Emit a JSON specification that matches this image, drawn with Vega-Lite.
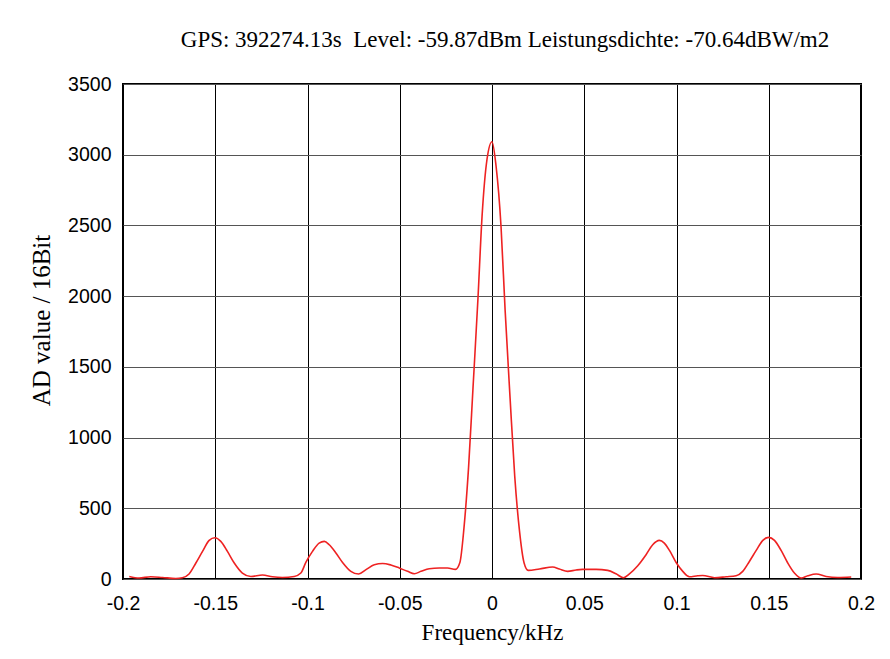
{
  "$schema": "https://vega.github.io/schema/vega-lite/v6.json",
  "autosize": {"type": "none"},
  "width": 738,
  "height": 495,
  "padding": {"left": 123, "top": 84, "right": 29, "bottom": 80},
  "background": "white",
  "title": {
    "text": "GPS: 392274.13s\u00a0 Level: -59.87dBm Leistungsdichte: -70.64dBW/m2",
    "font": "Liberation Serif",
    "fontSize": 23,
    "fontWeight": "normal",
    "color": "black",
    "frame": "group",
    "anchor": "middle",
    "baseline": "alphabetic",
    "offset": 4,
    "dx": 13
  },
  "data": {
    "values": [
      {"f": -0.1966, "v": 18}, {"f": -0.1913, "v": 7}, {"f": -0.185, "v": 16}, {"f": -0.1786, "v": 11},
      {"f": -0.1714, "v": 4}, {"f": -0.1678, "v": 9}, {"f": -0.1642, "v": 35}, {"f": -0.1605, "v": 113},
      {"f": -0.1569, "v": 195}, {"f": -0.1533, "v": 273}, {"f": -0.1502, "v": 292}, {"f": -0.147, "v": 266},
      {"f": -0.1434, "v": 195}, {"f": -0.1397, "v": 113}, {"f": -0.1353, "v": 42}, {"f": -0.1307, "v": 18},
      {"f": -0.1244, "v": 28}, {"f": -0.119, "v": 16}, {"f": -0.1136, "v": 11}, {"f": -0.1072, "v": 18},
      {"f": -0.1036, "v": 42}, {"f": -0.1009, "v": 117}, {"f": -0.0973, "v": 195}, {"f": -0.0937, "v": 254},
      {"f": -0.0909, "v": 266}, {"f": -0.0882, "v": 242}, {"f": -0.0846, "v": 184}, {"f": -0.081, "v": 117},
      {"f": -0.0765, "v": 54}, {"f": -0.0723, "v": 35}, {"f": -0.0683, "v": 66}, {"f": -0.0638, "v": 101},
      {"f": -0.0593, "v": 110}, {"f": -0.0548, "v": 99}, {"f": -0.0503, "v": 78}, {"f": -0.0458, "v": 54},
      {"f": -0.0421, "v": 37}, {"f": -0.0385, "v": 54}, {"f": -0.034, "v": 73}, {"f": -0.0286, "v": 78},
      {"f": -0.0241, "v": 78}, {"f": -0.0198, "v": 68}, {"f": -0.0174, "v": 117}, {"f": -0.0152, "v": 360},
      {"f": -0.0127, "v": 789}, {"f": -0.0103, "v": 1350}, {"f": -0.0076, "v": 1985}, {"f": -0.0054, "v": 2562},
      {"f": -0.0027, "v": 2968}, {"f": 0, "v": 3092}, {"f": 0.0022, "v": 2920}, {"f": 0.0049, "v": 2491},
      {"f": 0.0071, "v": 1903}, {"f": 0.0098, "v": 1279}, {"f": 0.0123, "v": 730}, {"f": 0.0149, "v": 340},
      {"f": 0.0174, "v": 113}, {"f": 0.0196, "v": 61}, {"f": 0.0257, "v": 71}, {"f": 0.0329, "v": 85},
      {"f": 0.0365, "v": 71}, {"f": 0.041, "v": 54}, {"f": 0.0456, "v": 64}, {"f": 0.0491, "v": 68},
      {"f": 0.0564, "v": 68}, {"f": 0.0627, "v": 61}, {"f": 0.0672, "v": 37}, {"f": 0.0712, "v": 9},
      {"f": 0.0745, "v": 37}, {"f": 0.079, "v": 94}, {"f": 0.0835, "v": 172}, {"f": 0.0871, "v": 242},
      {"f": 0.0907, "v": 273}, {"f": 0.0934, "v": 254}, {"f": 0.0962, "v": 202}, {"f": 0.0998, "v": 117},
      {"f": 0.1034, "v": 54}, {"f": 0.107, "v": 16}, {"f": 0.1115, "v": 23}, {"f": 0.1142, "v": 25},
      {"f": 0.1206, "v": 9}, {"f": 0.1269, "v": 16}, {"f": 0.1323, "v": 23}, {"f": 0.1359, "v": 54},
      {"f": 0.1395, "v": 124}, {"f": 0.1432, "v": 202}, {"f": 0.1468, "v": 273}, {"f": 0.1498, "v": 294},
      {"f": 0.1531, "v": 273}, {"f": 0.1567, "v": 202}, {"f": 0.1603, "v": 113}, {"f": 0.1639, "v": 42},
      {"f": 0.1676, "v": 7}, {"f": 0.1712, "v": 23}, {"f": 0.1757, "v": 35}, {"f": 0.1811, "v": 18},
      {"f": 0.1874, "v": 11}, {"f": 0.1947, "v": 14}
    ]
  },
  "mark": {"type": "line", "color": "#ee2222", "strokeWidth": 1.6, "interpolate": "monotone"},
  "encoding": {
    "x": {
      "field": "f",
      "type": "quantitative",
      "scale": {"domain": [-0.2, 0.2], "nice": false, "zero": false},
      "axis": {
        "title": "Frequency/kHz",
        "values": [-0.2, -0.15, -0.1, -0.05, 0, 0.05, 0.1, 0.15, 0.2],
        "format": "~g",
        "labelExpr": "replace(datum.label, '\u2212', '-')",
        "grid": true,
        "gridColor": "black",
        "gridOpacity": 1,
        "gridWidth": 1,
        "ticks": false,
        "domain": false,
        "labelPadding": 15,
        "labelFont": "Liberation Sans",
        "labelFontSize": 19.5,
        "labelColor": "black",
        "labelFlush": false,
        "titleFont": "Liberation Serif",
        "titleFontSize": 23,
        "titleFontWeight": "normal",
        "titleColor": "black",
        "titlePadding": 9
      }
    },
    "y": {
      "field": "v",
      "type": "quantitative",
      "scale": {"domain": [0, 3500], "nice": false},
      "axis": {
        "title": "AD value / 16Bit",
        "values": [0, 500, 1000, 1500, 2000, 2500, 3000, 3500],
        "format": "d",
        "grid": true,
        "gridColor": "#555555",
        "gridOpacity": 1,
        "gridWidth": 1,
        "ticks": false,
        "domain": false,
        "labelPadding": 12,
        "labelFont": "Liberation Sans",
        "labelFontSize": 19.5,
        "labelColor": "black",
        "labelFlush": false,
        "titleFont": "Liberation Serif",
        "titleFontSize": 25,
        "titleFontWeight": "normal",
        "titleColor": "black",
        "titlePadding": 13,
        "titleY": 236
      }
    }
  },
  "config": {
    "view": {"stroke": "black", "strokeWidth": 2}
  }
}
